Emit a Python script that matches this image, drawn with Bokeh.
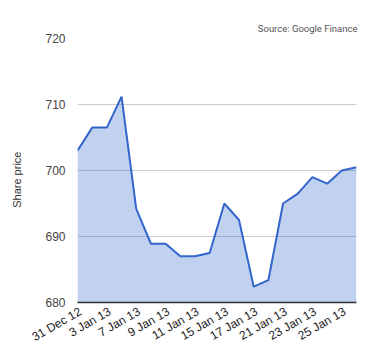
from bokeh.plotting import figure
from bokeh.models import Range1d, FixedTicker, Title
from bokeh.embed import file_html
from bokeh.resources import INLINE
import math

dates = ["31 Dec 12", "2 Jan 13", "3 Jan 13", "4 Jan 13", "7 Jan 13", "8 Jan 13",
         "9 Jan 13", "10 Jan 13", "11 Jan 13", "14 Jan 13", "15 Jan 13", "16 Jan 13",
         "17 Jan 13", "18 Jan 13", "21 Jan 13", "22 Jan 13", "23 Jan 13", "24 Jan 13",
         "25 Jan 13", "28 Jan 13"]
prices = [703.0, 706.5, 706.5, 711.2, 694.2, 688.9, 688.9, 687.0, 687.0, 687.5,
          695.0, 692.5, 682.4, 683.4, 695.0, 696.5, 699.0, 698.0, 700.0, 700.5]
y_ticks = [680, 690, 700, 710, 720]
y_base = 680
source_text = "Source: Google Finance"
y_label = "Share price"

idx = list(range(len(dates)))
label_idx = idx[::2]
label_shift = 0.2  # small visual nudge of the rotated labels
label_pos = [i + label_shift for i in label_idx]

p = figure(width=372, height=352, output_backend="svg", toolbar_location=None,
           x_range=Range1d(0, len(dates) - 1), y_range=Range1d(y_ticks[0], y_ticks[-1]),
           min_border_left=77, min_border_right=16, min_border_top=38, min_border_bottom=47)
p.outline_line_color = None
p.background_fill_color = "white"
p.border_fill_color = "white"

p.varea(x=idx, y1=[y_base] * len(idx), y2=prices, fill_color="#3366cc", fill_alpha=0.3)
p.line(x=idx, y=prices, line_color="#3366cc", line_width=2)

p.xgrid.grid_line_color = None
p.ygrid.grid_line_color = "#cccccc"
p.ygrid.grid_line_width = 1

p.yaxis.ticker = FixedTicker(ticks=y_ticks)
p.yaxis.axis_line_color = None
p.yaxis.major_tick_line_color = None
p.yaxis.minor_tick_line_color = None
p.yaxis.major_tick_out = 0
p.yaxis.major_tick_in = 0
p.yaxis.major_label_text_font = "Liberation Sans"
p.yaxis.major_label_text_font_size = "12px"
p.yaxis.major_label_text_color = "#444444"
p.yaxis.major_label_standoff = 12
p.yaxis.axis_label = y_label + "\u00a0" * 6
p.yaxis.axis_label_text_font = "Liberation Sans"
p.yaxis.axis_label_text_font_size = "11px"
p.yaxis.axis_label_text_font_style = "normal"
p.yaxis.axis_label_text_color = "#333333"
p.yaxis.axis_label_standoff = 19

p.xaxis.ticker = FixedTicker(ticks=label_pos)
p.xaxis.major_label_overrides = {pos: dates[i] for pos, i in zip(label_pos, label_idx)}
p.xaxis.major_label_orientation = math.pi / 6
p.xaxis.axis_line_color = "#333333"
p.xaxis.axis_line_width = 1.5
p.xaxis.major_tick_line_color = None
p.xaxis.minor_tick_line_color = None
p.xaxis.major_tick_out = 0
p.xaxis.major_tick_in = 0
p.xaxis.major_label_text_font = "Liberation Sans"
p.xaxis.major_label_text_font_size = "12px"
p.xaxis.major_label_text_color = "#222222"
p.xaxis.major_label_standoff = 8

src = Title(text=source_text, align="right", text_font="Roboto", text_font_size="9.5px",
            text_color="#555555", text_font_style="normal", standoff=9, offset=-1)
p.add_layout(src, "above")

open("out.html", "w").write(file_html(p, INLINE))
